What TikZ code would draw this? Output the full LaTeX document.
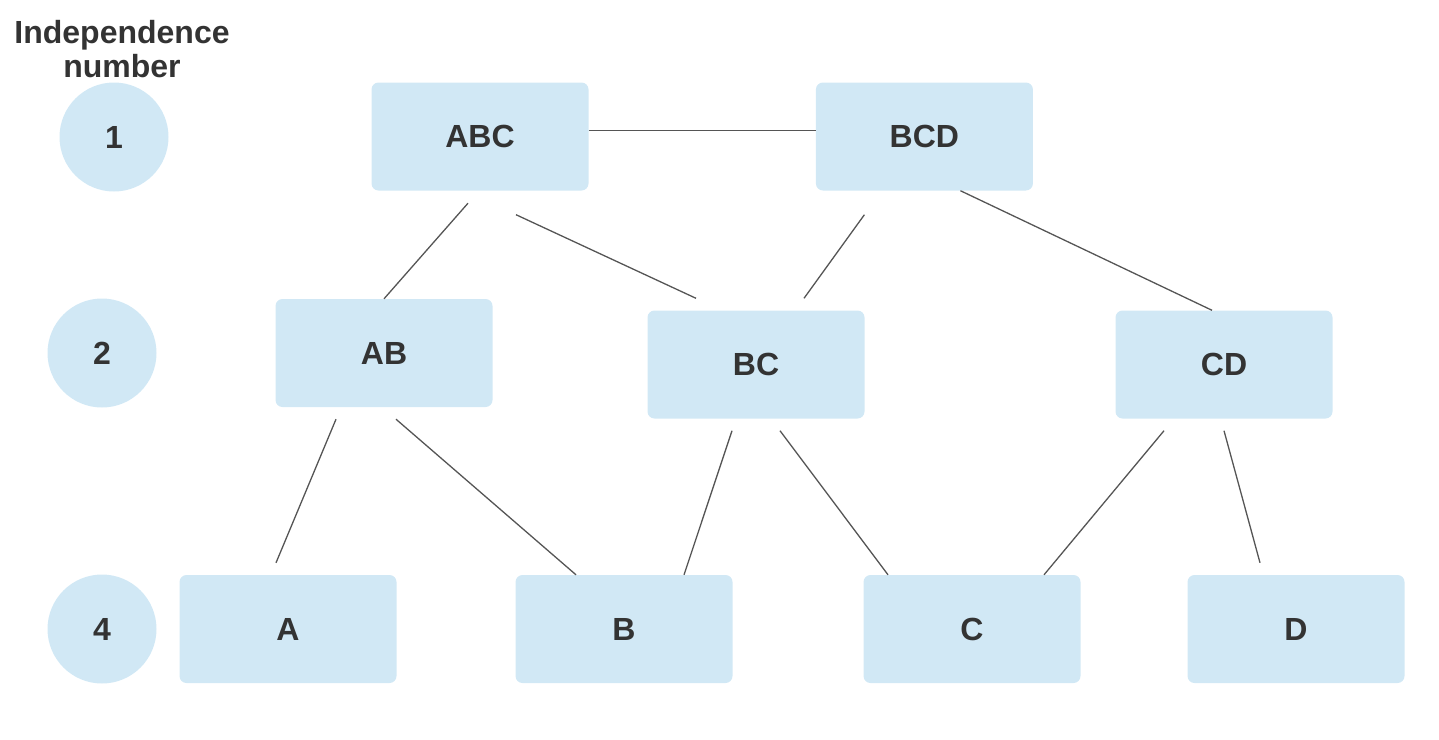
\documentclass[tikz,border=0pt]{standalone}
\usepackage{fontspec}
\setmainfont{Liberation Sans}
\usetikzlibrary{positioning}

\definecolor{boxblue}{HTML}{D1E8F5}
\definecolor{ink}{HTML}{333333}
\definecolor{edgegray}{HTML}{555555}

\begin{document}
\begin{tikzpicture}[
		x=1pt, y=-1pt,
		every node/.style={text=ink, font=\fontsize{32}{34}\selectfont\bfseries},
		block/.style={fill=boxblue, rounded corners=7pt, minimum width=217pt, minimum height=108pt, inner sep=0pt},
		level/.style={circle, fill=boxblue, minimum size=109pt, inner sep=0pt},
		edge/.style={draw=edgegray, line width=1.3pt}
	]
		\useasboundingbox (0,0) rectangle (1439,739);

		\node[align=center] (title) at (122,49) {Independence\\number};
		\node[level] (l1) at (114,137) {1};
		\node[level] (l2) at (102,353) {2};
		\node[level] (l4) at (102,629) {4};

		\node[block] (ABC) at (480,136.5) {ABC};
		\node[block, right=227pt of ABC] (BCD) {BCD};
		\node[block] (AB) at (384,353) {AB};
		\node[block] (BC) at (756,364.5) {BC};
		\node[block] (CD) at (1224,364.5) {CD};
		\node[block] (A) at (288,629) {A};
		\node[block] (B) at (624,629) {B};
		\node[block] (C) at (972,629) {C};
		\node[block] (D) at (1296,629) {D};

		\draw[edge] ([yshift=6pt]ABC.east) -- ([yshift=6pt]BCD.west);
		\draw[edge] ([shift={(-12,12.5)}]ABC.south) -- (AB.north);
		\draw[edge] ([shift={(36,24)}]ABC.south) -- ([shift={(-60,-12)}]BC.north);
		\draw[edge] ([shift={(-60,24)}]BCD.south) -- ([shift={(48,-12)}]BC.north);
		\draw[edge] ([shift={(36,0)}]BCD.south) -- ([shift={(-12,0)}]CD.north);
		\draw[edge] ([shift={(-48,12)}]AB.south) -- ([shift={(-12,-12)}]A.north);
		\draw[edge] ([shift={(12,12)}]AB.south) -- ([shift={(-48,0)}]B.north);
		\draw[edge] ([shift={(-24,12)}]BC.south) -- ([shift={(60,0)}]B.north);
		\draw[edge] ([shift={(24,12)}]BC.south) -- ([shift={(-84,0)}]C.north);
		\draw[edge] ([shift={(-60,12)}]CD.south) -- ([shift={(72,0)}]C.north);
		\draw[edge] ([shift={(0,12)}]CD.south) -- ([shift={(-36,-12)}]D.north);
	\end{tikzpicture}
\end{document}
